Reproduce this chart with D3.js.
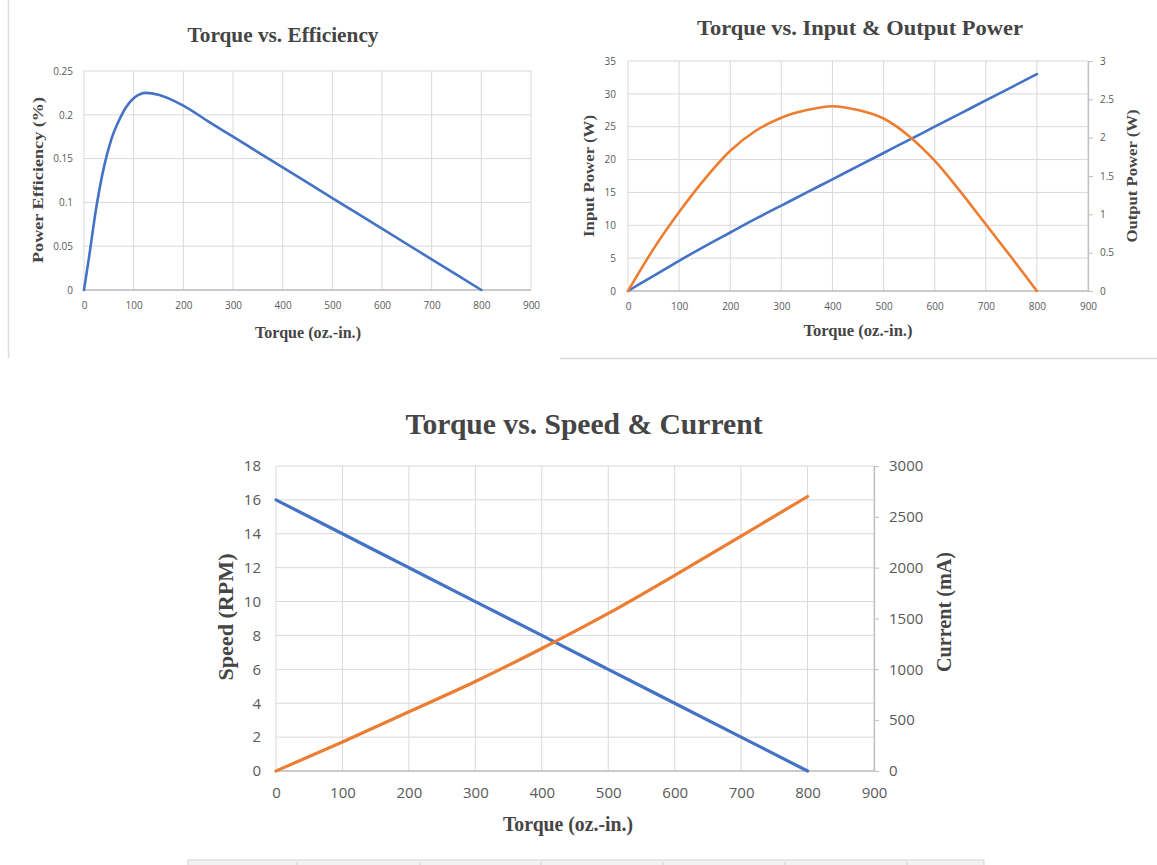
<!DOCTYPE html>
<html lang="en">
<head>
    <meta charset="UTF-8">
    <title>Motor Curves</title>
    <script src="https://d3js.org/d3.v7.min.js"></script>
    <style>
        body {
            margin: 0;
            background: #fff;
            overflow: hidden;
        }
        .tick text {
            font-family: "Open Sans", "Liberation Sans", sans-serif;
            fill: #595959;
        }
        .title, .axis-title {
            font-family: "Liberation Serif", "DejaVu Serif", serif;
            font-weight: bold;
            fill: #454545;
        }
        .grid line {
            stroke: #d9d9d9;
            stroke-width: 1;
        }
    </style>
</head>
<body>
<div id="chart"></div>
<script>
    // x values shared by all three charts
    const torqueTicks = [0, 100, 200, 300, 400, 500, 600, 700, 800, 900];

    // Torque vs. Efficiency
    const effTorque = [0, 10, 25, 40, 55, 70, 85, 100, 125, 150, 200, 250, 300, 400, 500, 600, 700, 800];
    const efficiency = [0, 0.037, 0.095, 0.14, 0.172, 0.193, 0.209, 0.219, 0.225, 0.223, 0.2105, 0.1925, 0.175, 0.14, 0.105, 0.07, 0.035, 0];
    const effTicks = [0, 0.05, 0.1, 0.15, 0.2, 0.25];

    // Torque vs. Input & Output Power
    const powerTorque = [0, 50, 100, 150, 200, 250, 300, 350, 400, 450, 500, 550, 600, 650, 700, 750, 800];
    const inputPower = [0, 2.3, 4.6, 6.8, 8.9, 11, 13, 15, 17, 19, 21, 23, 25, 27, 29, 31, 33];
    const outputPower = [0, 0.55, 1.03, 1.46, 1.83, 2.09, 2.26, 2.36, 2.41, 2.36, 2.25, 2.02, 1.7, 1.3, 0.87, 0.44, 0];
    const inputTicks = [0, 5, 10, 15, 20, 25, 30, 35];
    const outputTicks = [0, 0.5, 1, 1.5, 2, 2.5, 3];

    // Torque vs. Speed & Current
    const speedTorque = [0, 100, 200, 300, 400, 500, 600, 700, 800];
    const speed = [16, 14, 12, 10, 8, 6, 4, 2, 0];
    const current = [0, 285, 582, 880, 1205, 1550, 1925, 2310, 2700];
    const speedTicks = [0, 2, 4, 6, 8, 10, 12, 14, 16, 18];
    const currentTicks = [0, 500, 1000, 1500, 2000, 2500, 3000];

    const BLUE = "#4472C4";
    const ORANGE = "#ED7D31";

    const svg = d3.select("#chart")
        .append("svg")
        .attr("width", 1157)
        .attr("height", 865);

    // page decorations (borders of the surrounding document)
    svg.append("line").attr("x1", 8.5).attr("x2", 8.5).attr("y1", 0).attr("y2", 358)
        .attr("stroke", "#dcdcdc").attr("stroke-width", 1.5);
    svg.append("line").attr("x1", 560).attr("x2", 1157).attr("y1", 358.5).attr("y2", 358.5)
        .attr("stroke", "#dcdcdc").attr("stroke-width", 1.5);
    svg.append("rect").attr("x", 188).attr("y", 860).attr("width", 796).attr("height", 6)
        .attr("fill", "#f2f2f2").attr("stroke", "#d6d6d6");
    [297, 420, 541, 663, 785, 907].forEach(function(d) {
        svg.append("line").attr("x1", d).attr("x2", d).attr("y1", 862).attr("y2", 866)
            .attr("stroke", "#d0d0d0");
    });

    function addText(g, cls, text, cx, cy, size, len, rotate) {
        g.append("text")
            .attr("class", cls)
            .attr("transform", `translate(${cx},${cy})` + (rotate ? " rotate(-90)" : ""))
            .attr("text-anchor", "middle")
            .attr("dy", "0.35em")
            .attr("font-size", size)
            .attr("textLength", len)
            .attr("lengthAdjust", "spacingAndGlyphs")
            .text(text);
    }

    const plain = d => String(d);

    function panel(cfg) {
        const g = svg.append("g");

        const x = d3.scaleLinear().domain([0, 900]).range([cfg.left, cfg.right]);
        const yL = d3.scaleLinear().domain(cfg.leftDomain).range([cfg.bottom, cfg.top]);

        // gridlines
        g.append("g").attr("class", "grid")
            .selectAll("line").data(torqueTicks).enter().append("line")
            .attr("x1", d => x(d)).attr("x2", d => x(d))
            .attr("y1", cfg.top).attr("y2", cfg.bottom);
        g.append("g").attr("class", "grid")
            .selectAll("line").data(cfg.leftTicks).enter().append("line")
            .attr("x1", cfg.left).attr("x2", cfg.right)
            .attr("y1", d => yL(d)).attr("y2", d => yL(d));

        // bottom axis line
        g.append("line").attr("x1", cfg.left).attr("x2", cfg.right)
            .attr("y1", cfg.bottom).attr("y2", cfg.bottom)
            .attr("stroke", "#bfbfbf").attr("stroke-width", 1.3);

        // x tick labels
        const xAxis = g.append("g")
            .attr("transform", `translate(0,${cfg.bottom})`)
            .call(d3.axisBottom(x).tickValues(torqueTicks).tickFormat(plain).tickSize(0).tickPadding(cfg.xPad));
        xAxis.select(".domain").remove();
        xAxis.selectAll("text").attr("font-size", cfg.tickSize);

        // left tick labels
        const yAxis = g.append("g")
            .attr("transform", `translate(${cfg.left},0)`)
            .call(d3.axisLeft(yL).tickValues(cfg.leftTicks).tickFormat(plain).tickSize(0).tickPadding(cfg.yPad));
        yAxis.select(".domain").remove();
        yAxis.selectAll("text").attr("font-size", cfg.tickSize);

        let yR = null;
        if (cfg.rightDomain) {
            yR = d3.scaleLinear().domain(cfg.rightDomain).range([cfg.bottom, cfg.top]);
            const rAxis = g.append("g")
                .attr("transform", `translate(${cfg.right},0)`)
                .call(d3.axisRight(yR).tickValues(cfg.rightTicks).tickFormat(plain)
                    .tickSize(5).tickSizeOuter(0).tickPadding(cfg.rPad));
            rAxis.select(".domain").attr("stroke", "#bfbfbf").attr("stroke-width", 1.3);
            rAxis.selectAll("line").attr("stroke", "#bfbfbf");
            rAxis.selectAll("text").attr("font-size", cfg.tickSize);
        }

        // series
        cfg.series.forEach(function(s) {
            const ys = s.axis === "right" ? yR : yL;
            const line = d3.line()
                .x((d, i) => x(s.xs[i]))
                .y(d => ys(d))
                .curve(d3.curveMonotoneX);
            g.append("path")
                .datum(s.values)
                .attr("fill", "none")
                .attr("stroke", s.color)
                .attr("stroke-width", cfg.lineWidth)
                .attr("stroke-linecap", "round")
                .attr("d", line);
        });

        // titles
        addText(g, "title", cfg.title[0], cfg.title[1], cfg.title[2], cfg.title[3], cfg.title[4], false);
        addText(g, "axis-title", cfg.xTitle[0], cfg.xTitle[1], cfg.xTitle[2], cfg.xTitle[3], cfg.xTitle[4], false);
        addText(g, "axis-title", cfg.yTitle[0], cfg.yTitle[1], cfg.yTitle[2], cfg.yTitle[3], cfg.yTitle[4], true);
        if (cfg.rTitle) {
            addText(g, "axis-title", cfg.rTitle[0], cfg.rTitle[1], cfg.rTitle[2], cfg.rTitle[3], cfg.rTitle[4], true);
        }
    }

    panel({
        left: 84, right: 531, top: 71, bottom: 290,
        leftDomain: [0, 0.25], leftTicks: effTicks,
        tickSize: 10, xPad: 12, yPad: 11,
        lineWidth: 2.6,
        series: [{ xs: effTorque, values: efficiency, color: BLUE }],
        title: ["Torque vs. Efficiency", 283, 35, 21, 191],
        xTitle: ["Torque (oz.-in.)", 308, 332, 16, 106],
        yTitle: ["Power Efficiency (%)", 38, 180, 15, 166]
    });

    panel({
        left: 628, right: 1088, top: 61, bottom: 291,
        leftDomain: [0, 35], leftTicks: inputTicks,
        rightDomain: [0, 3], rightTicks: outputTicks,
        tickSize: 10, xPad: 12, yPad: 12, rPad: 7,
        lineWidth: 2.6,
        series: [
            { xs: powerTorque, values: inputPower, color: BLUE, axis: "left" },
            { xs: powerTorque, values: outputPower, color: ORANGE, axis: "right" }
        ],
        title: ["Torque vs. Input & Output Power", 860, 28, 21, 326],
        xTitle: ["Torque (oz.-in.)", 858, 330, 16, 109],
        yTitle: ["Input Power (W)", 589, 176, 15, 122],
        rTitle: ["Output Power (W)", 1132, 176, 15, 133]
    });

    panel({
        left: 276, right: 874, top: 466, bottom: 771,
        leftDomain: [0, 18], leftTicks: speedTicks,
        rightDomain: [0, 3000], rightTicks: currentTicks,
        tickSize: 15, xPad: 16, yPad: 15, rPad: 10,
        lineWidth: 3.2,
        series: [
            { xs: speedTorque, values: speed, color: BLUE, axis: "left" },
            { xs: speedTorque, values: current, color: ORANGE, axis: "right" }
        ],
        title: ["Torque vs. Speed & Current", 584, 423, 30, 357],
        xTitle: ["Torque (oz.-in.)", 568, 823, 22, 130],
        yTitle: ["Speed (RPM)", 225, 617, 22, 127],
        rTitle: ["Current (mA)", 943, 612, 22, 120]
    });
</script>
</body>
</html>
